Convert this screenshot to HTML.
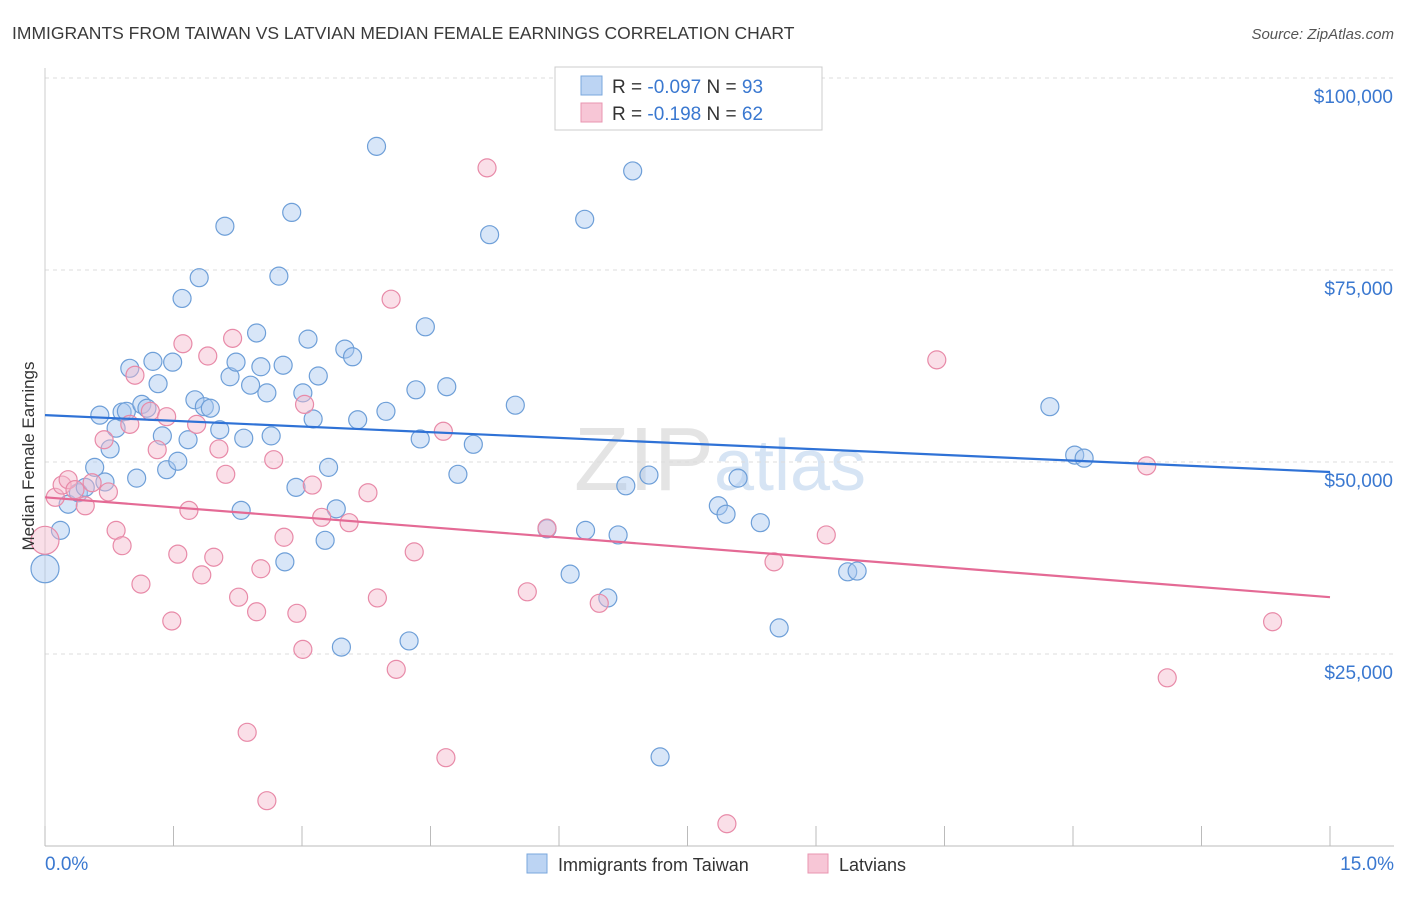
<!DOCTYPE html>
<html><head><meta charset="utf-8"><style>
body{margin:0;background:#fff;font-family:"Liberation Sans",sans-serif}
svg text{font-family:"Liberation Sans",sans-serif}
</style></head><body>
<svg id="chart" width="1406" height="892" xmlns="http://www.w3.org/2000/svg">
<text x="12" y="39" font-size="17.5" fill="#3a3a3a">IMMIGRANTS FROM TAIWAN VS LATVIAN MEDIAN FEMALE EARNINGS CORRELATION CHART</text>
<text x="1394" y="39" font-size="15" fill="#555" text-anchor="end" font-style="italic">Source: ZipAtlas.com</text>
<text x="720" y="490" font-size="90" fill="#e4e4e4" text-anchor="middle" font-family="Liberation Serif"><tspan>ZIP</tspan><tspan fill="#d6e4f4" font-family="Liberation Sans" font-size="72">atlas</tspan></text>
<g id="grid"></g>
<g id="axes"></g>
<g id="marks"></g>
<text transform="translate(34,456) rotate(-90)" font-size="17" fill="#333" text-anchor="middle">Median Female Earnings</text>
<g>
<rect x="555" y="67" width="267" height="63" fill="#fff" stroke="#ccc"/>
<rect x="581" y="76" width="21" height="19" fill="#bcd4f3" stroke="#7aa7dd"/>
<rect x="581" y="103" width="21" height="19" fill="#f7c6d6" stroke="#e995b0"/>
<text x="612" y="93" font-size="19" fill="#333">R = <tspan fill="#3a78d0">-0.097</tspan>   N = <tspan fill="#3a78d0">93</tspan></text>
<text x="612" y="120" font-size="19" fill="#333">R =  <tspan fill="#3a78d0">-0.198</tspan>   N = <tspan fill="#3a78d0">62</tspan></text>
</g>
<g>
<rect x="527" y="854" width="20" height="19" fill="#bcd4f3" stroke="#7aa7dd"/>
<text x="558" y="871" font-size="18" fill="#333">Immigrants from Taiwan</text>
<rect x="808" y="854" width="20" height="19" fill="#f7c6d6" stroke="#e995b0"/>
<text x="839" y="871" font-size="18" fill="#333">Latvians</text>
</g>
</svg>
<script>
const taiwanX=[0,0.18,0.27,0.39,0.47,0.58,0.64,0.70,0.76,0.83,0.90,0.95,0.99,1.07,1.13,1.19,1.26,1.32,1.37,1.42,1.49,1.55,1.60,1.67,1.75,1.80,1.86,1.93,2.04,2.10,2.16,2.23,2.29,2.32,2.40,2.47,2.52,2.59,2.64,2.73,2.78,2.80,2.88,2.93,3.01,3.07,3.13,3.19,3.27,3.31,3.40,3.46,3.50,3.59,3.65,3.87,3.98,4.25,4.33,4.38,4.44,4.69,4.82,5.00,5.19,5.49,5.86,6.13,6.30,6.31,6.57,6.69,6.78,6.86,7.05,7.18,7.86,7.95,8.09,8.35,8.57,9.37,9.48,11.73,12.02,12.13,6.6];
const taiwanY=[36.1,41.1,44.5,46.0,46.7,49.3,56.1,47.4,51.7,54.4,56.5,56.6,62.2,47.9,57.5,57.0,63.1,60.2,53.4,49.0,63.0,50.1,71.3,52.9,58.1,74.0,57.2,57.0,54.2,80.7,61.1,63.0,43.7,53.1,60.0,66.8,62.4,59.0,53.4,74.2,62.6,37.0,82.5,46.7,59.0,66.0,55.6,61.2,39.8,49.3,43.9,25.9,64.7,63.7,55.5,91.1,56.6,26.7,59.4,53.0,67.6,59.8,48.4,52.3,79.6,57.4,41.3,35.4,81.6,41.1,32.3,40.5,46.9,87.9,48.3,11.6,44.3,43.2,47.9,42.1,28.4,35.7,35.8,57.2,50.9,50.5,96.9];
const latviaX=[0,0.12,0.20,0.27,0.35,0.47,0.55,0.74,0.69,0.83,0.90,0.99,1.05,1.12,1.23,1.31,1.42,1.48,1.55,1.61,1.68,1.77,1.83,1.90,1.97,2.03,2.11,2.19,2.26,2.36,2.47,2.52,2.59,2.67,2.79,2.94,3.01,3.03,3.12,3.23,3.55,3.77,3.88,4.04,4.10,4.31,4.65,4.68,5.16,5.63,5.86,6.47,6.49,7.96,8.51,9.12,10.41,12.86,13.10,14.33];
const latviaY=[39.8,45.4,47.0,47.7,46.4,44.3,47.3,46.1,52.9,41.1,39.1,54.9,61.3,34.1,56.6,51.6,55.9,29.3,38.0,65.4,43.7,54.9,35.3,63.8,37.6,51.7,48.4,66.1,32.4,14.8,30.5,36.1,5.9,50.3,40.2,30.3,25.6,57.5,47.0,42.8,42.1,46.0,32.3,71.2,23.0,38.3,54.0,11.5,88.3,33.1,41.4,31.6,94.9,2.9,37.0,40.5,63.3,49.5,21.9,29.2];
const trendTaiwan=[56.1,48.7];
const trendLatvia=[45.4,32.4];
const yTicks=[25000,50000,75000,100000];
const yTickLabels=["$25,000","$50,000","$75,000","$100,000"];
const xTickCount=11;
const NS="http://www.w3.org/2000/svg";
const sx=v=>45+v/15*1285;
const sy=k=>846-k/25*192;
function mk(tag,attrs,parent){const e=document.createElementNS(NS,tag);for(const k in attrs)e.setAttribute(k,attrs[k]);parent.appendChild(e);return e;}
const grid=document.getElementById('grid'),axes=document.getElementById('axes'),marks=document.getElementById('marks');
yTicks.forEach((t,i)=>{
 const y=sy(t/1000);
 const l=mk('line',{x1:45,x2:1394,y1:y,y2:y,stroke:'#ddd','stroke-dasharray':'4,4'},grid);
 
 
 const tx=mk('text',{x:1393,y:y+25,'font-size':19,fill:'#3a78d0','text-anchor':'end'},axes);
 tx.textContent=yTickLabels[i];
 
 
});
const ax=mk('line',{x1:45,x2:1394,y1:846,y2:846,stroke:'#bbb'},axes);


const ay=mk('line',{x1:45,x2:45,y1:68,y2:846,stroke:'#ccc'},axes);


for(let i=0;i<xTickCount;i++){
 const x=sx(i*1.5);
 const t=mk('line',{x1:x,x2:x,y1:826,y2:846,stroke:'#bbb'},axes);
 
 
}
const xl0=mk('text',{x:45,y:870,'font-size':19,fill:'#3a78d0'},axes);xl0.textContent='0.0%';


const xl1=mk('text',{x:1394,y:870,'font-size':19,fill:'#3a78d0','text-anchor':'end'},axes);xl1.textContent='15.0%';


function pts(X,Y,fill,stroke,name){
 X.forEach((x,i)=>{
  const c=mk('circle',{cx:sx(x),cy:sy(Y[i]),r:i===0?14:9,fill:fill,'fill-opacity':0.45,stroke:stroke,'stroke-width':1.2},marks);
  
  
 });
}
pts(taiwanX,taiwanY,'#a9c8f0','#6e9fd8','taiwan-point');
pts(latviaX,latviaY,'#f5b8cc','#e88aa8','latvian-point');
const t1=mk('line',{x1:sx(0),y1:sy(trendTaiwan[0]),x2:sx(15),y2:sy(trendTaiwan[1]),stroke:'#2f72d6','stroke-width':2.2},marks);


const t2=mk('line',{x1:sx(0),y1:sy(trendLatvia[0]),x2:sx(15),y2:sy(trendLatvia[1]),stroke:'#e46a95','stroke-width':2.2},marks);


</script>
</body></html>
